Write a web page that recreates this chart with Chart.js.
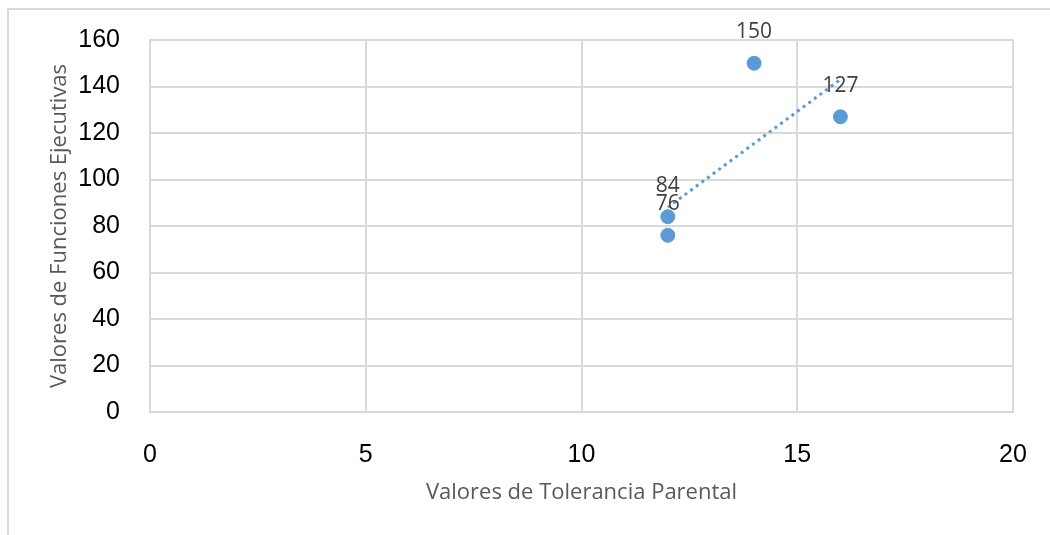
<!DOCTYPE html>
<html lang="es">
<head>
    <meta charset="UTF-8">
    <title>Tolerancia Parental vs Funciones Ejecutivas</title>
    <script src="https://cdn.jsdelivr.net/npm/chart.js"></script>
    <style>
        body {
            margin: 0;
            padding: 0;
            background: #fff;
            overflow: hidden;
        }
        .frame {
            position: absolute;
            left: 7px;
            top: 8px;
            width: 1100px;
            height: 600px;
            border-top: 2px solid #d9d9d9;
            border-left: 2px solid #d9d9d9;
        }
        .chart-box {
            position: absolute;
            left: 0;
            top: 0;
            width: 1050px;
            height: 535px;
        }
    </style>
</head>
<body>

<div class="frame"></div>
<div class="chart-box">
    <canvas id="scatterChart"></canvas>
</div>

<script>
    // datos
    const tolerancia = [12, 12, 14, 16];
    const funciones = [84, 76, 150, 127];
    // línea de tendencia (extremos estimados de la imagen)
    const tendenciaX = [12, 16];
    const tendenciaY = [88, 143];
    const xTicks = [0, 5, 10, 15, 20];
    const yTicks = [0, 20, 40, 60, 80, 100, 120, 140, 160];

    const azul = '#5b9bd5';
    const rejilla = '#d9d9d9';
    const fuenteEjes = '"Liberation Sans", Arial, sans-serif';
    const fuenteTexto = '"Open Sans", sans-serif';

    // etiquetas de datos encima de cada punto
    const etiquetasPlugin = {
        id: 'etiquetas',
        afterDatasetsDraw(chart) {
            const meta = chart.getDatasetMeta(0);
            const c = chart.ctx;
            c.save();
            c.font = '21px ' + fuenteTexto;
            c.fillStyle = '#404040';
            c.textAlign = 'center';
            c.textBaseline = 'middle';
            meta.data.forEach((pt, i) => {
                c.fillText(String(funciones[i]), pt.x, pt.y - 31);
            });
            c.restore();
        }
    };

    new Chart(document.getElementById('scatterChart'), {
        type: 'scatter',
        data: {
            datasets: [
                {
                    label: 'Valores',
                    data: tolerancia.map((x, i) => ({ x: x, y: funciones[i] })),
                    backgroundColor: azul,
                    borderColor: azul,
                    pointRadius: 7,
                    pointHoverRadius: 7
                },
                {
                    label: 'Tendencia',
                    type: 'line',
                    data: tendenciaX.map((x, i) => ({ x: x, y: tendenciaY[i] })),
                    borderColor: azul,
                    borderWidth: 3,
                    borderDash: [3, 4],
                    pointRadius: 0,
                    fill: false
                }
            ]
        },
        options: {
            responsive: true,
            maintainAspectRatio: false,
            animation: false,
            layout: {
                padding: { left: 0, right: 37, top: 40, bottom: 0 }
            },
            plugins: {
                legend: { display: false },
                tooltip: { enabled: false }
            },
            scales: {
                x: {
                    type: 'linear',
                    min: 0,
                    max: 20,
                    afterBuildTicks: (s) => { s.ticks = xTicks.map(v => ({ value: v })); },
                    afterFit: (s) => { s.height = 123; },
                    // marcas invisibles: solo separan las etiquetas del eje
                    grid: { color: rejilla, lineWidth: 2, drawTicks: true, tickLength: 26, tickColor: 'rgba(0,0,0,0)' },
                    border: { color: rejilla, width: 2 },
                    ticks: {
                        padding: 2,
                        color: '#000',
                        maxRotation: 0,
                        font: { family: fuenteEjes, size: 25 }
                    },
                    title: {
                        display: true,
                        text: 'Valores de Tolerancia Parental',
                        color: '#595959',
                        font: { family: fuenteTexto, size: 22 },
                        padding: { top: 0, bottom: 29 }
                    }
                },
                y: {
                    min: 0,
                    max: 160,
                    afterBuildTicks: (s) => { s.ticks = yTicks.map(v => ({ value: v })); },
                    afterFit: (s) => { s.width = 150; },
                    grid: { color: rejilla, lineWidth: 2, drawTicks: true, tickLength: 28, tickColor: 'rgba(0,0,0,0)' },
                    border: { color: rejilla, width: 2 },
                    ticks: {
                        padding: 2,
                        color: '#000',
                        font: { family: fuenteEjes, size: 25 }
                    },
                    title: {
                        display: true,
                        text: 'Valores de Funciones Ejecutivas',
                        color: '#595959',
                        font: { family: fuenteTexto, size: 22 },
                        padding: { top: 47, bottom: 0 }
                    }
                }
            }
        },
        plugins: [etiquetasPlugin]
    });
</script>

</body>
</html>
